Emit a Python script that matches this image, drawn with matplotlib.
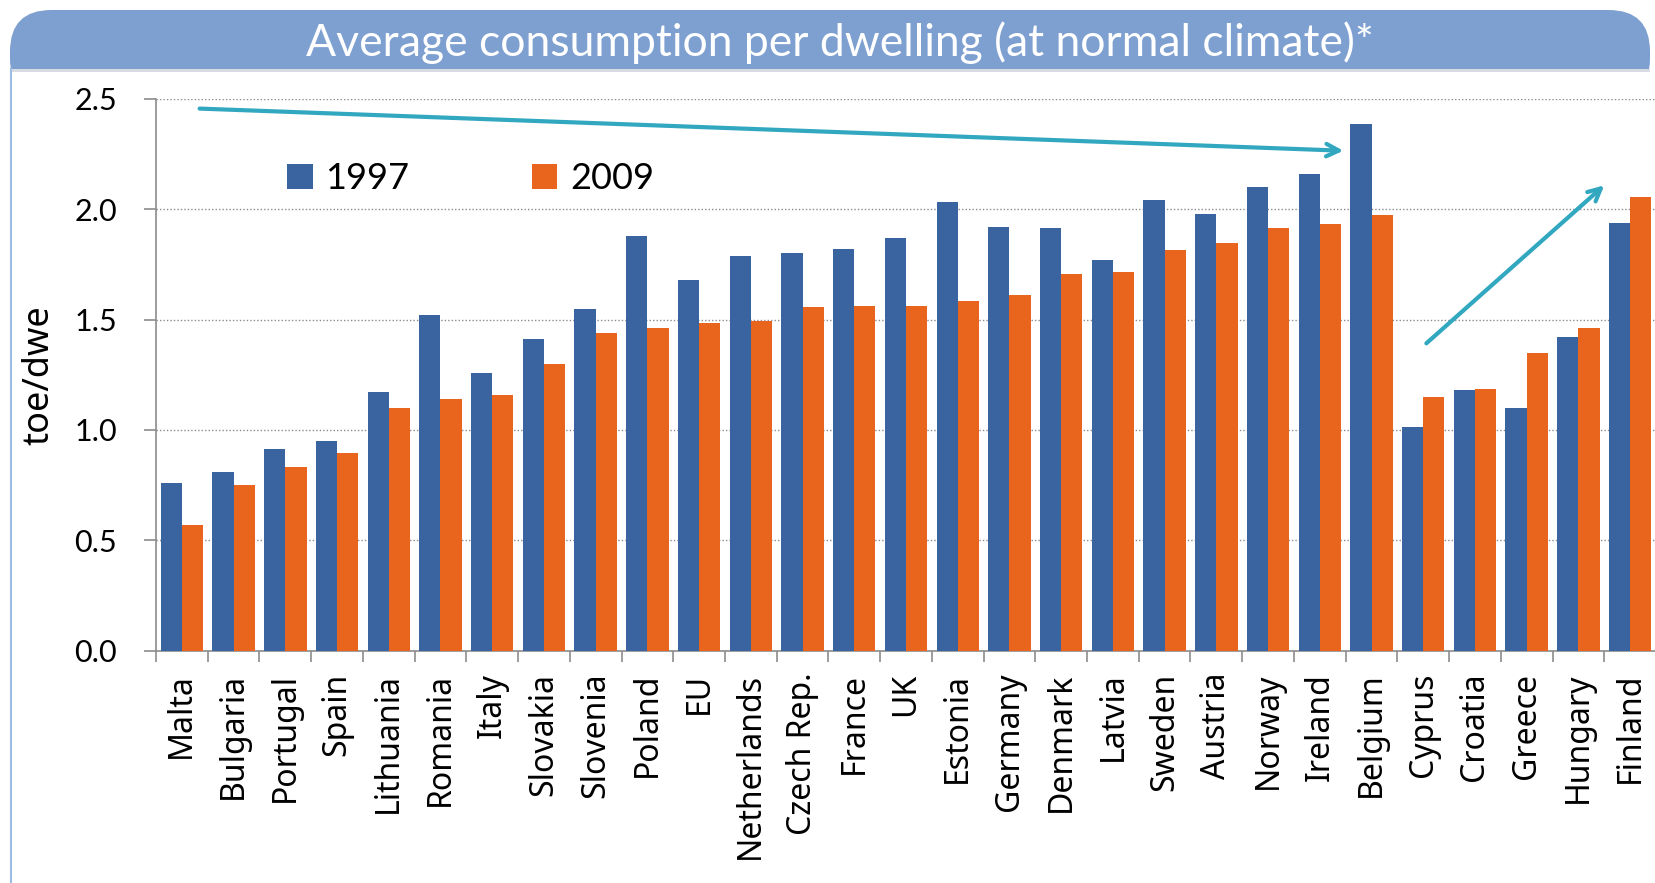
import numpy as np
import matplotlib.pyplot as plt
from matplotlib.patches import FancyBboxPatch, Rectangle
from matplotlib.lines import Line2D

# data (toe per dwelling)
countries = ['Malta', 'Bulgaria', 'Portugal', 'Spain', 'Lithuania', 'Romania', 'Italy',
             'Slovakia', 'Slovenia', 'Poland', 'EU', 'Netherlands', 'Czech Rep.', 'France',
             'UK', 'Estonia', 'Germany', 'Denmark', 'Latvia', 'Sweden', 'Austria', 'Norway',
             'Ireland', 'Belgium', 'Cyprus', 'Croatia', 'Greece', 'Hungary', 'Finland']
v1997 = [0.76, 0.81, 0.915, 0.95, 1.17, 1.52, 1.26, 1.41, 1.55, 1.88, 1.68, 1.79, 1.80, 1.82,
         1.87, 2.035, 1.92, 1.915, 1.77, 2.04, 1.98, 2.10, 2.16, 2.385, 1.015, 1.18, 1.10,
         1.42, 1.94]
v2009 = [0.57, 0.75, 0.83, 0.895, 1.10, 1.14, 1.16, 1.30, 1.44, 1.46, 1.485, 1.495, 1.555,
         1.56, 1.56, 1.585, 1.61, 1.705, 1.715, 1.815, 1.845, 1.915, 1.935, 1.975, 1.15,
         1.185, 1.35, 1.46, 2.055]
years = ['1997', '2009']

blue = '#3A64A0'
orange = '#E9651E'
teal = '#31A7C0'

W, H = 1656, 883
fig = plt.figure(figsize=(W / 100, H / 100), dpi=100)

# title banner
banner = FancyBboxPatch((10 / W, 1 - 100 / H), (1650 - 10) / W, 90 / H,
                        boxstyle='round,pad=0,rounding_size=0.025',
                        transform=fig.transFigure, facecolor='#7EA0D0', edgecolor='none',
                        mutation_aspect=W / H, zorder=0)
fig.patches.append(banner)
fig.patches.append(Rectangle((0, 0), 1, 1 - 69 / H, transform=fig.transFigure,
                             facecolor='white', edgecolor='none', zorder=0.5))
fig.patches.append(Rectangle((10 / W, 1 - 72 / H), (1650 - 10) / W, 3 / H,
                             transform=fig.transFigure, facecolor='#D8DCE2',
                             edgecolor='none', zorder=0.6))
fig.lines.append(Line2D([11 / W, 11 / W], [0, 1 - 69 / H], transform=fig.transFigure,
                        color='#9CBCE4', lw=1.5, zorder=1))
fig.text(840 / W, 1 - 43 / H, 'Average consumption per dwelling (at normal climate)*',
         ha='center', va='center', color='white', fontsize=32, family='Lato', zorder=2)

ax = fig.add_axes([156 / W, 1 - 650.5 / H, 1 - 156 / W, (650.5 - 99) / H])
ax.set_zorder(3)
ax.patch.set_alpha(0)

x = np.arange(len(countries))
bw = 0.41
ax.bar(x - bw / 2, v1997, bw, color=blue, label=years[0], zorder=3)
ax.bar(x + bw / 2, v2009, bw, color=orange, label=years[1], zorder=3)

ax.set_xlim(-0.5, 28.42)
ax.set_ylim(0, 2.5)
ax.set_yticks(np.arange(0, 2.51, 0.5))
ax.set_yticklabels(['%.1f' % t for t in np.arange(0, 2.51, 0.5)], family='Lato', fontsize=22)
ax.yaxis.grid(True, linestyle=(0, (1, 1.5)), color='#8C8C8C', lw=1)
ax.set_axisbelow(True)

ax.set_xticks(x)
ax.set_xticklabels(countries, rotation=90, family='Noto Sans', fontsize=23)
ax.set_xticks(np.arange(-0.5, len(countries), 1), minor=True)
ax.tick_params(axis='x', which='major', length=0, pad=16)
ax.tick_params(axis='x', which='minor', length=8, color='#8C8C8C', width=1.2)
ax.tick_params(axis='y', length=9, color='#8C8C8C', width=1.2, pad=19)

for s in ['top', 'right']:
    ax.spines[s].set_visible(False)
for s in ['left', 'bottom']:
    ax.spines[s].set_color('#8C8C8C')
    ax.spines[s].set_linewidth(1.2)

ax.set_ylabel('toe/dwe', family='Noto Sans', fontsize=26, labelpad=12)

leg = ax.legend(loc='center left', bbox_to_anchor=(0.066, 0.855), ncol=2, frameon=False,
                prop={'family': 'Lato', 'size': 26}, handlelength=0.7, handleheight=0.7,
                handletextpad=0.35, columnspacing=3.4)

# trend arrows
arrow = dict(arrowstyle='->,head_length=0.9,head_width=0.45', color=teal, lw=3)
ax.annotate('', xy=(22.51, 2.265), xytext=(0.29, 2.457), arrowprops=arrow, zorder=5)
ax.annotate('', xy=(27.54, 2.117), xytext=(24.02, 1.384), arrowprops=arrow, zorder=5)

fig.savefig('out.png', dpi=100)
